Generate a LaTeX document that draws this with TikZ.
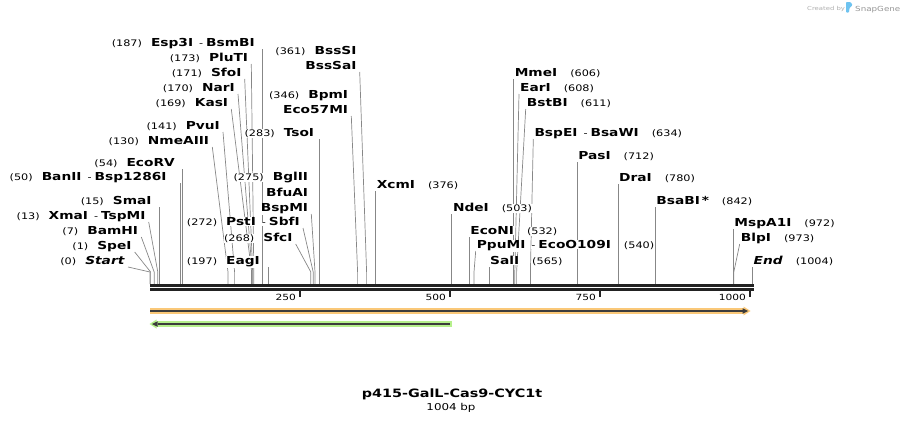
\documentclass[tikz,border=0pt]{standalone}
\usepackage{fontspec}
\setmainfont[FakeStretch=1.25]{DejaVu Sans}
\usepackage{tikz}
\definecolor{leadergrey}{RGB}{135,135,135}
\definecolor{axisblack}{RGB}{34,34,34}
\definecolor{cdsorange}{RGB}{250,200,120}
\definecolor{cdsgreen}{RGB}{182,240,140}
\definecolor{featuredark}{RGB}{60,60,60}
\definecolor{creditgrey}{RGB}{175,175,175}
\definecolor{creditblue}{RGB}{110,195,240}
\setlength{\fboxsep}{0.5pt}
\newcommand{\sname}[1]{\colorbox{white}{#1}}
\newcommand{\spos}[1]{\colorbox{white}{\mdseries\fontsize{9}{10}\selectfont(#1)}}
\newcommand{\sdash}{\hspace{5pt}\colorbox{white}{\mdseries\fontsize{9}{10}\selectfont-}\hspace{2pt}}
\tikzset{
  site_font/.style = {font=\fontsize{11}{13}\selectfont\bfseries},
  tick_font/.style = {font=\fontsize{8.5}{10}\selectfont},
  title_font/.style = {font=\fontsize{11.5}{14}\selectfont\bfseries},
  size_font/.style = {font=\fontsize{9.5}{12}\selectfont},
  credit_font/.style = {font=\fontsize{5.5}{7}\selectfont}
}
\tikzset{
  left_site/.style = {site_font, anchor=south east, inner xsep=2.5pt, inner ysep=0pt, text depth=2pt},
  right_site/.style = {site_font, anchor=south west, inner xsep=0.5pt, inner ysep=0pt, text depth=2pt},
  leader/.style = {draw=leadergrey, line width=0.7pt},
  axis_line/.style = {draw=axisblack, line width=2.6pt},
  tick/.style = {draw=axisblack, line width=2pt},
  tick_label/.style = {tick_font, anchor=base east, inner sep=0pt},
  halo_orange/.style = {draw=cdsorange, line width=5.4pt, -{Triangle[length=7pt, width=9pt, line width=0pt]}},
  halo_green/.style = {draw=cdsgreen, line width=5.4pt, -{Triangle[length=7pt, width=9pt, line width=0pt]}},
  feature_line/.style = {draw=featuredark, line width=2pt, -{Triangle[length=5.5pt, width=5.5pt, line width=0pt]}}
}
\usetikzlibrary{backgrounds, arrows.meta, positioning, calc}

\begin{document}
\begin{tikzpicture}[x=1pt, y=-1pt]{
        \useasboundingbox (0,0) rectangle (904,423);

        % Cut positions on the sequence
        \coordinate (c_0) at (150,284);     \coordinate (c_1) at (150.6,284);
        \coordinate (c_7) at (154.2,284);   \coordinate (c_13) at (157.8,284);
        \coordinate (c_15) at (159,284);    \coordinate (c_50) at (180,284);
        \coordinate (c_54) at (182.4,284);  \coordinate (c_130) at (228,284);
        \coordinate (c_141) at (234.6,284); \coordinate (c_169) at (251.4,284);
        \coordinate (c_170) at (252,284);   \coordinate (c_171) at (252.6,284);
        \coordinate (c_173) at (253.8,284); \coordinate (c_187) at (262.2,284);
        \coordinate (c_197) at (268.2,284); \coordinate (c_268) at (310.8,284);
        \coordinate (c_272) at (313.2,284); \coordinate (c_275) at (315,284);
        \coordinate (c_283) at (319.8,284); \coordinate (c_346) at (357.6,284);
        \coordinate (c_361) at (366.6,284); \coordinate (c_376) at (375.6,284);
        \coordinate (c_503) at (451.8,284); \coordinate (c_532) at (469.2,284);
        \coordinate (c_540) at (474,284);   \coordinate (c_565) at (489,284);
        \coordinate (c_606) at (513.6,284); \coordinate (c_608) at (514.8,284);
        \coordinate (c_611) at (516.6,284); \coordinate (c_634) at (530.4,284);
        \coordinate (c_712) at (577.2,284); \coordinate (c_780) at (618,284);
        \coordinate (c_842) at (655.2,284); \coordinate (c_972) at (733.2,284);
        \coordinate (c_973) at (733.8,284); \coordinate (c_1004) at (752.4,284);

        % Sites labelled on the left
        \node[left_site] at (128,267) (l_0) {\spos{0}\hspace{8pt}\sname{\textit{Start}}};
        \node[left_site] at (134.7,252) (l_1) {\spos{1}\hspace{8pt}\sname{SpeI}};
        \node[left_site] at (141.3,237) (l_7) {\spos{7}\hspace{8pt}\sname{BamHI}};
        \node[left_site] at (148.7,222) (l_13) {\spos{13}\hspace{8pt}\sname{XmaI}\sdash\sname{TspMI}};
        \node[left_site] at (154.7,207) (l_15) {\spos{15}\hspace{8pt}\sname{SmaI}};
        \node[left_site] at (169.7,183) (l_50) {\spos{50}\hspace{8pt}\sname{BanII}\sdash\sname{Bsp1286I}};
        \node[left_site] at (178,169) (l_54) {\spos{54}\hspace{8pt}\sname{EcoRV}};
        \node[left_site] at (212.3,147) (l_130) {\spos{130}\hspace{8pt}\sname{NmeAIII}};
        \node[left_site] at (223,132) (l_141) {\spos{141}\hspace{8pt}\sname{PvuI}};
        \node[left_site] at (231.3,109) (l_169) {\spos{169}\hspace{8pt}\sname{KasI}};
        \node[left_site] at (238,94) (l_170) {\spos{170}\hspace{8pt}\sname{NarI}};
        \node[left_site] at (244.7,79) (l_171) {\spos{171}\hspace{8pt}\sname{SfoI}};
        \node[left_site] at (251.3,64) (l_173) {\spos{173}\hspace{8pt}\sname{PluTI}};
        \node[left_site] at (258,49) (l_187) {\spos{187}\hspace{8pt}\sname{Esp3I}\sdash\sname{BsmBI}};
        \node[left_site] at (263,267) (l_197) {\spos{197}\hspace{8pt}\sname{EagI}};
        \node[left_site] at (295.7,244) (l_268) {\spos{268}\hspace{8pt}\sname{SfcI}};
        \node[left_site] at (303,228) (l_272) {\spos{272}\hspace{8pt}\sname{PstI}\sdash\sname{SbfI}};
        \node[left_site] at (311.3,214) (l_275) {\sname{BspMI}};
        \node[left_site] at ([yshift=15.5pt]l_275.south east) (l_275b) {\sname{BfuAI}};
        \node[left_site] at ([yshift=15.5pt]l_275b.south east) (l_275c) {\spos{275}\hspace{8pt}\sname{BglII}};
        \node[left_site] at (317.3,139) (l_283) {\spos{283}\hspace{8pt}\sname{TsoI}};
        \node[left_site] at (351.3,116) (l_346) {\sname{Eco57MI}};
        \node[left_site] at ([yshift=15pt]l_346.south east) (l_346b) {\spos{346}\hspace{8pt}\sname{BpmI}};
        \node[left_site] at (359.7,72) (l_361) {\sname{BssSaI}};
        \node[left_site] at ([yshift=15pt]l_361.south east) (l_361b) {\spos{361}\hspace{8pt}\sname{BssSI}};

        % Sites labelled on the right
        \node[right_site] at (375.6,191) (l_376) {\sname{XcmI}\hspace{12pt}\spos{376}};
        \node[right_site] at (451.8,214) (l_503) {\sname{NdeI}\hspace{12pt}\spos{503}};
        \node[right_site] at (469.2,237) (l_532) {\sname{EcoNI}\hspace{12pt}\spos{532}};
        \node[right_site] at (475.7,251) (l_540) {\sname{PpuMI}\sdash\sname{EcoO109I}\hspace{12pt}\spos{540}};
        \node[right_site] at (489,267) (l_565) {\sname{SalI}\hspace{12pt}\spos{565}};
        \node[right_site] at (513.6,79) (l_606) {\sname{MmeI}\hspace{12pt}\spos{606}};
        \node[right_site] at (519,94) (l_608) {\sname{EarI}\hspace{12pt}\spos{608}};
        \node[right_site] at (525.7,109) (l_611) {\sname{BstBI}\hspace{12pt}\spos{611}};
        \node[right_site] at (533.3,139) (l_634) {\sname{BspEI}\sdash\sname{BsaWI}\hspace{12pt}\spos{634}};
        \node[right_site] at (577.2,162) (l_712) {\sname{PasI}\hspace{12pt}\spos{712}};
        \node[right_site] at (618,184) (l_780) {\sname{DraI}\hspace{12pt}\spos{780}};
        \node[right_site] at (655.2,207) (l_842) {\sname{BsaBI\,*}\hspace{12pt}\spos{842}};
        \node[right_site] at (733.2,229) (l_972) {\sname{MspA1I}\hspace{12pt}\spos{972}};
        \node[right_site] at (739.7,244) (l_973) {\sname{BlpI}\hspace{12pt}\spos{973}};
        \node[right_site] at (752.4,267) (l_1004) {\sname{\textit{End}}\hspace{12pt}\spos{1004}};

        % Leaders
        \begin{scope}[on background layer]
        \draw[leader] (c_0) -- ++(0,-12) -- (l_0.south east);
        \draw[leader] (c_1) -- ++(0,-12) -- (l_1.south east);
        \draw[leader] (c_7) -- ++(0,-12) -- (l_7.south east);
        \draw[leader] (c_13) -- ++(0,-12) -- (l_13.south east);
        \draw[leader] (c_15) -- (c_15 |- l_15.south);
        \draw[leader] (c_50) -- (c_50 |- l_50.south);
        \draw[leader] (c_54) -- (c_54 |- l_54.south);
        \draw[leader] (c_130) -- ++(0,-12) -- (l_130.south east);
        \draw[leader] (c_141) -- ++(0,-12) -- (l_141.south east);
        \draw[leader] (c_169) -- ++(0,-14) -- (l_169.south east);
        \draw[leader] (c_170) -- ++(0,-14) -- (l_170.south east);
        \draw[leader] (c_171) -- ++(0,-14) -- (l_171.south east);
        \draw[leader] (c_173) -- ++(0,-14) -- (l_173.south east);
        \draw[leader] (c_187) -- (c_187 |- l_187.south);
        \draw[leader] (c_197) -- (c_197 |- l_197.south);
        \draw[leader] (c_268) -- ++(0,-12) -- (l_268.south east);
        \draw[leader] (c_272) -- ++(0,-12) -- (l_272.south east);
        \draw[leader] (c_275) -- ++(0,-12) -- (l_275.south east);
        \draw[leader] (c_283) -- (c_283 |- l_283.south);
        \draw[leader] (c_346) -- ++(0,-12) -- (l_346.south east);
        \draw[leader] (c_361) -- ++(0,-12) -- (l_361.south east);

        \draw[leader] (c_376) -- (c_376 |- l_376.south);
        \draw[leader] (c_503) -- (c_503 |- l_503.south);
        \draw[leader] (c_532) -- (c_532 |- l_532.south);
        \draw[leader] (c_540) -- ++(0,-12) -- (l_540.south west);
        \draw[leader] (c_565) -- (c_565 |- l_565.south);
        \draw[leader] (c_606) -- (c_606 |- l_606.south);
        \draw[leader] (c_608) -- ++(0,-12) -- (l_608.south west);
        \draw[leader] (c_611) -- ++(0,-12) -- (l_611.south west);
        \draw[leader] (c_634) -- ++(0,-12) -- (l_634.south west);
        \draw[leader] (c_712) -- (c_712 |- l_712.south);
        \draw[leader] (c_780) -- (c_780 |- l_780.south);
        \draw[leader] (c_842) -- (c_842 |- l_842.south);
        \draw[leader] (c_972) -- (c_972 |- l_972.south);
        \draw[leader] (c_973) -- ++(0,-12) -- (l_973.south west);
        \draw[leader] (c_1004) -- (c_1004 |- l_1004.south);
        \end{scope}

        % Sequence and scale
        \coordinate (seq_start) at (150,285.3);
        \coordinate (seq_end) at (754,285.3);
        \draw[axis_line] (seq_start) -- (seq_end);
        \draw[axis_line] ([yshift=-4.2pt]seq_start) -- ([yshift=-4.2pt]seq_end);
        \coordinate (t_250) at (300,290);
        \coordinate (t_500) at (450,290);
        \coordinate (t_750) at (600,290);
        \coordinate (t_1000) at (750,290);
        \draw[tick] (t_250) -- ++(0,7);
        \draw[tick] (t_500) -- ++(0,7);
        \draw[tick] (t_750) -- ++(0,7);
        \draw[tick] (t_1000) -- ++(0,7);
        \node[tick_label] at (296,300) (n_250) {250};
        \node[tick_label] at (446,300) (n_500) {500};
        \node[tick_label] at (596,300) (n_750) {750};
        \node[tick_label] at (746,300) (n_1000) {1000};

        % Features
        \coordinate (fwd_start) at (150,311);
        \coordinate (fwd_end) at (750.5,311);
        \draw[halo_orange] (fwd_start) -- (fwd_end);
        \draw[feature_line] (fwd_start) -- ([xshift=-2.5pt]fwd_end);
        \coordinate (rev_start) at (452,324);
        \coordinate (rev_end) at (149.5,324);
        \draw[halo_green] (rev_start) -- (rev_end);
        \draw[feature_line] ([xshift=-2pt]rev_start) -- ([xshift=2.5pt]rev_end);

        % Name and size
        \node[title_font, anchor=base] at (452,397) (title) {p415-GalL-Cas9-CYC1t};
        \node[size_font, anchor=base] at (451,410) (size) {1004 bp};

        % Credit
        \node[credit_font, text=creditgrey, anchor=base west, inner sep=0pt] at (807,10.5) (credit) {Created by};
        \fill[creditblue, rounded corners=0.8pt] (846,12.5) -- (846,2) -- (850.5,2) -- (852.5,5) -- (849.5,8) -- (849,12.5) -- cycle;
        \node[credit_font, font=\fontsize{7}{9}\selectfont, text=creditgrey!85!black, anchor=base west, inner sep=0pt] at (855,11.5) (brand) {SnapGene};
    }
\end{tikzpicture}
\end{document}
